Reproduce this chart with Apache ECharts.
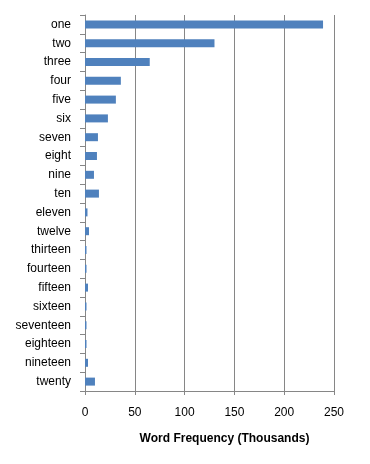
<!DOCTYPE html>
<html><head><meta charset="utf-8">
<script src="https://cdn.jsdelivr.net/npm/echarts@6/dist/echarts.min.js"></script>
<style>html,body{margin:0;padding:0;background:#fff}#c{width:370px;height:464px}</style>
</head><body><div id="c"></div>
<script>
const categories = ["one","two","three","four","five","six","seven","eight","nine","ten","eleven","twelve","thirteen","fourteen","fifteen","sixteen","seventeen","eighteen","nineteen","twenty"];
const values = [239,130,65,36,31,23,13,12,9,14,2.5,4,1.5,1.5,3,1.5,1.5,1.5,3,10];
const xTicks = [0,50,100,150,200,250];
const chart = echarts.init(document.getElementById('c'));
const font = 'Liberation Sans';
chart.setOption({
  animation:false,
  grid:{left:85,right:36,top:15,bottom:73,containLabel:false},
  xAxis:{type:'value',min:0,max:250,interval:50,
    axisLine:{show:true,lineStyle:{color:'#868686'}},
    axisTick:{show:true,length:4,lineStyle:{color:'#868686'}},
    splitLine:{show:true,lineStyle:{color:'#868686',width:1}},
    axisLabel:{color:'#000',fontFamily:font,fontSize:12,margin:16,formatter:v=>xTicks.includes(v)?String(v):''},
    name:'Word Frequency (Thousands)',nameLocation:'middle',nameGap:42,
    nameTextStyle:{color:'#000',fontFamily:font,fontSize:12,fontWeight:'bold',padding:[0,0,0,30]}
  },
  yAxis:{type:'category',data:categories,inverse:true,
    axisLine:{show:true,lineStyle:{color:'#868686'}},
    axisTick:{show:true,length:5,lineStyle:{color:'#868686'}},
    axisLabel:{color:'#000',fontFamily:font,fontSize:12,margin:14}
  },
  series:[{type:'bar',data:values,barWidth:8,itemStyle:{color:'#4F81BD'}}]
});
</script></body></html>
